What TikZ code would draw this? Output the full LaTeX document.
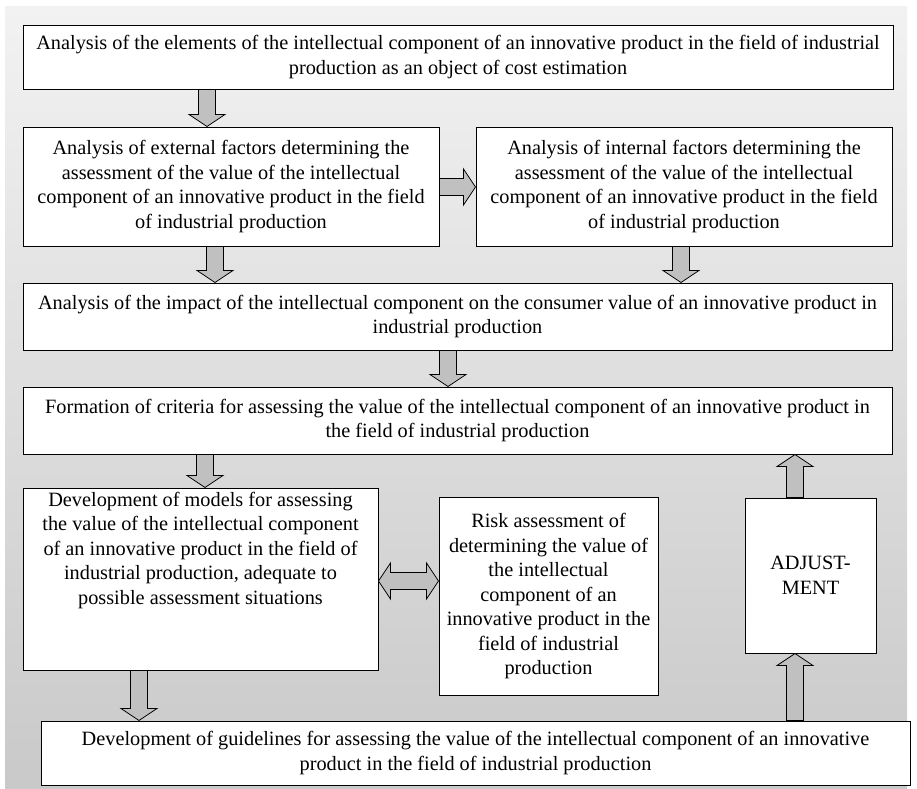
\documentclass[tikz,border=0pt]{standalone}
\usepackage{fontspec}
\setmainfont{Liberation Serif}
\usetikzlibrary{calc}
\definecolor{bgtop}{HTML}{F2F2F2}
\definecolor{bgbot}{HTML}{C9C9C9}
\definecolor{arrfill}{HTML}{C0C0C0}
\newcommand\fs{\fontsize{20.3}{24.5}\selectfont}
\def\sw{8.5pt}
\def\hw{18pt}
\def\hl{12pt}
\tikzset{
  box/.style={draw=black, line width=1pt, fill=white, inner sep=0pt, align=center, font=\fs},
  blockarrow/.style={draw=black, line width=0.8pt, fill=arrfill, line join=miter}
}
\newcommand\arrowDown[3]{%
  \draw[blockarrow] let \p1=#1, \p2=#2, \p3=#3 in
    (\x1-\sw,\y2) -- (\x1+\sw,\y2) -- (\x1+\sw,\y3+\hl) -- (\x1+\hw,\y3+\hl) -- (\x1,\y3)
    -- (\x1-\hw,\y3+\hl) -- (\x1-\sw,\y3+\hl) -- cycle;}
\newcommand\arrowUp[3]{%
  \draw[blockarrow] let \p1=#1, \p2=#2, \p3=#3 in
    (\x1-\sw,\y2) -- (\x1+\sw,\y2) -- (\x1+\sw,\y3-\hl) -- (\x1+\hw,\y3-\hl) -- (\x1,\y3)
    -- (\x1-\hw,\y3-\hl) -- (\x1-\sw,\y3-\hl) -- cycle;}
\newcommand\arrowRight[3]{%
  \draw[blockarrow] let \p1=#1, \p2=#2, \p3=#3 in
    (\x2,\y1-\sw) -- (\x2,\y1+\sw) -- (\x3-\hl,\y1+\sw) -- (\x3-\hl,\y1+\hw) -- (\x3,\y1)
    -- (\x3-\hl,\y1-\hw) -- (\x3-\hl,\y1-\sw) -- cycle;}
\newcommand\arrowBoth[3]{%
  \draw[blockarrow] let \p1=#1, \p2=#2, \p3=#3 in
    (\x2,\y1) -- (\x2+\hl,\y1+\hw) -- (\x2+\hl,\y1+\sw) -- (\x3-\hl,\y1+\sw) -- (\x3-\hl,\y1+\hw) -- (\x3,\y1)
    -- (\x3-\hl,\y1-\hw) -- (\x3-\hl,\y1-\sw) -- (\x2+\hl,\y1-\sw) -- (\x2+\hl,\y1-\hw) -- cycle;}
\begin{document}
\begin{tikzpicture}[x=1pt,y=-1pt]
\useasboundingbox (0,0) rectangle (917,788);
\shade[top color=bgtop, bottom color=bgbot] (5,6) rectangle (907,788);

\node[box, minimum width=870pt, minimum height=64pt] (b1) at (458,57)
  {Analysis of the elements of the intellectual component of an innovative product in the field of industrial\\production as an object of cost estimation};
\node[box, minimum width=416pt, minimum height=119pt] (b2) at (231,186.5)
  {Analysis of external factors determining the\\assessment of the value of the intellectual\\component of an innovative product in the field\\of industrial production};
\node[box, minimum width=416pt, minimum height=119pt] (b3) at (684,186.5)
  {Analysis of internal factors determining the\\assessment of the value of the intellectual\\component of an innovative product in the field\\of industrial production};
\node[box, minimum width=869pt, minimum height=67pt] (b4) at (457.5,316.5)
  {Analysis of the impact of the intellectual component on the consumer value of an innovative product in\\industrial production};
\node[box, minimum width=869pt, minimum height=67pt] (b5) at (457.5,420.5)
  {Formation of criteria for assessing the value of the intellectual component of an innovative product in\\the field of industrial production};
\node[box, minimum width=355pt, minimum height=182pt, text depth=62pt] (b6) at (200.5,579)
  {Development of models for assessing\\the value of the intellectual component\\of an innovative product in the field of\\industrial production, adequate to\\possible assessment situations};
\node[box, minimum width=219pt, minimum height=198pt] (b7) at (548.5,596)
  {Risk assessment of\\determining the value of\\the intellectual\\component of an\\innovative product in the\\field of industrial\\production};
\node[box, minimum width=131pt, minimum height=155pt] (b8) at (810.5,575.5)
  {ADJUST-\\MENT};
\node[box, minimum width=869pt, minimum height=64pt] (b9) at (475.5,753)
  {Development of guidelines for assessing the value of the intellectual component of an innovative\\product in the field of industrial production};

\arrowDown{(207,0)}{(b1.south)}{(b2.north)}
\arrowRight{(0,187)}{(b2.east)}{(b3.west)}
\arrowDown{(215,0)}{(b2.south)}{(b4.north)}
\arrowDown{(681,0)}{(b3.south)}{(b4.north)}
\arrowDown{(448,0)}{(b4.south)}{(b5.north)}
\arrowDown{(205,0)}{(b5.south)}{(b6.north)}
\arrowBoth{(0,581)}{(b6.east)}{(b7.west)}
\arrowDown{(139,0)}{(b6.south)}{(b9.north)}
\arrowUp{(795,0)}{(b9.north)}{(b8.south)}
\arrowUp{(795,0)}{(b8.north)}{(b5.south)}
\end{tikzpicture}
\end{document}
